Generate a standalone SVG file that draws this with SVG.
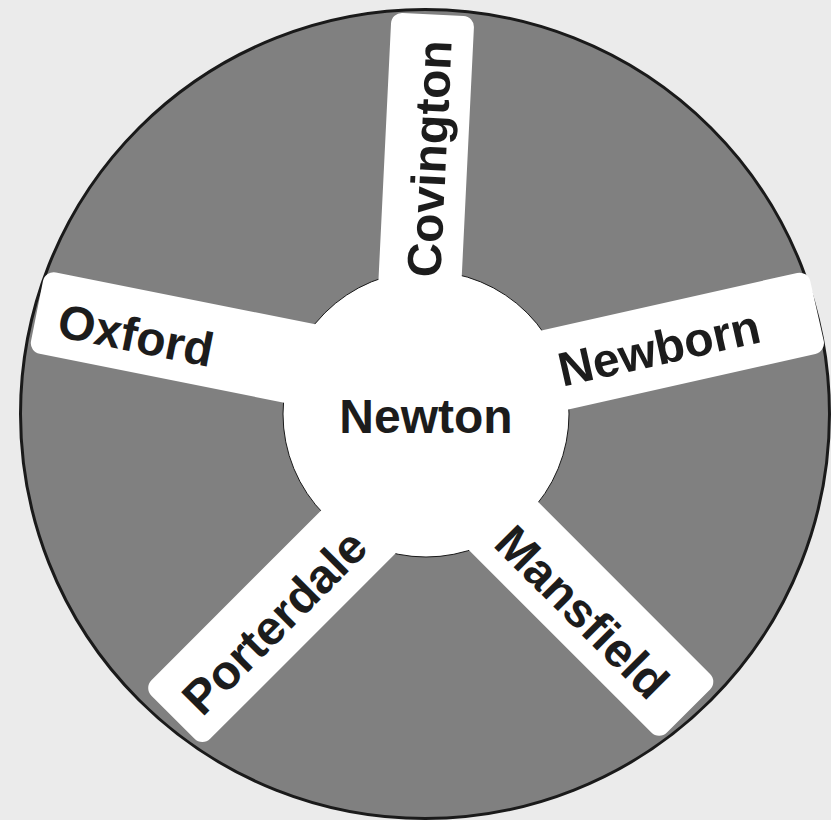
<svg xmlns="http://www.w3.org/2000/svg" width="831" height="820" viewBox="0 0 831 820">
<style>
.spoke{fill:#ffffff;stroke:none}
.lbl{font-family:"Liberation Sans",Arial,sans-serif;font-weight:bold;font-size:48px;fill:#1c1c1c;text-anchor:middle}
</style>
<rect x="0" y="0" width="831" height="820" fill="#ebebeb"/>
<g id="wheel">
<circle cx="425" cy="414" r="404.5" fill="#808080" stroke="#1a1a1a" stroke-width="3"/>
</g>
<g id="newton">
<circle cx="426" cy="414" r="143" fill="#ffffff" stroke="#1a1a1a" stroke-width="1"/>
</g>
<g id="connectors">
<rect class="spoke" x="-330" y="-41.5" width="330" height="83" rx="11" transform="translate(433,14.5) rotate(-87.2)"/>
<rect class="spoke" x="-330" y="-41.5" width="330" height="83" rx="11" transform="translate(37,311) rotate(191.3)"/>
<rect class="spoke" x="-330" y="-41.5" width="330" height="83" rx="11" transform="translate(817,311) rotate(-12.7)"/>
<rect class="spoke" x="-330" y="-41.5" width="330" height="83" rx="11" transform="translate(688.5,711) rotate(45)"/>
<rect class="spoke" x="-330" y="-41.5" width="330" height="83" rx="11" transform="translate(173,717.3) rotate(135)"/>
</g>
<g id="newton-label"><text class="lbl" x="426" y="433">Newton</text></g>
<g id="covington"><text class="lbl" transform="translate(446,159.5) rotate(-87.2)">Covington</text></g>
<g id="oxford"><text class="lbl" transform="translate(132.7,351.7) rotate(11.3)">Oxford</text></g>
<g id="newborn"><text class="lbl" transform="translate(662.7,364.3) rotate(-12.7)">Newborn</text></g>
<g id="mansfield"><text class="lbl" transform="translate(570.3,623.7) rotate(45)">Mansfield</text></g>
<g id="porterdale"><text class="lbl" transform="translate(286.2,633.9) rotate(-45)">Porterdale</text></g>
</svg>
